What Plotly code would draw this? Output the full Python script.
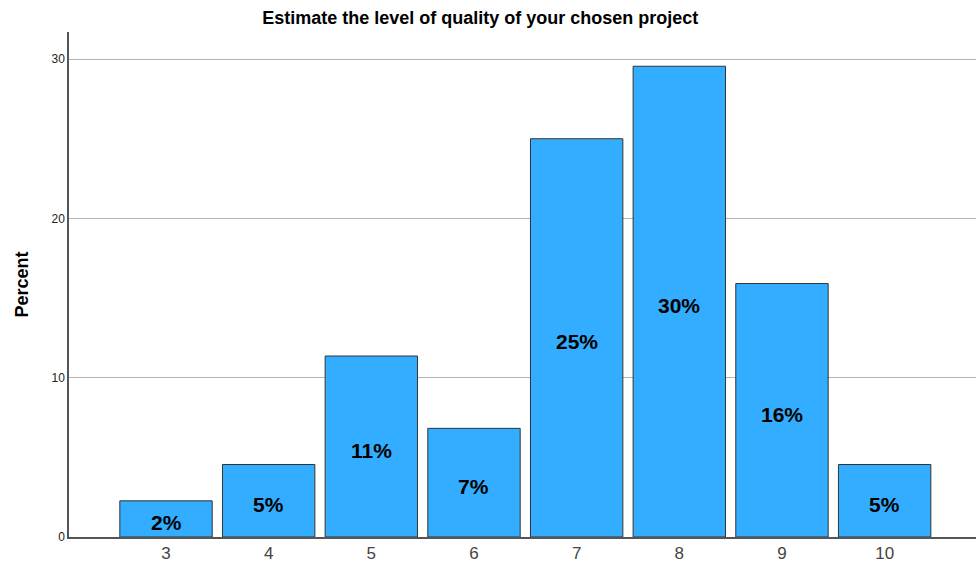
import plotly.graph_objects as go

categories = [3, 4, 5, 6, 7, 8, 9, 10]
percent = [2.27, 4.55, 11.36, 6.82, 25.0, 29.55, 15.91, 4.55]
labels = ["2%", "5%", "11%", "7%", "25%", "30%", "16%", "5%"]
y_ticks = [0, 10, 20, 30]

fig = go.Figure(go.Bar(
    x=categories, y=percent,
    marker=dict(color="#33adff", line=dict(color="#333333", width=1)),
    width=0.9,
    hovertext=labels,
))

for c, v, t in zip(categories, percent, labels):
    fig.add_annotation(x=c, y=v / 2, text="<b>" + t + "</b>", showarrow=False,
                       yshift=-4, xanchor="center", yanchor="middle",
                       font=dict(family="Arial, Liberation Sans", size=21, color="black"))

fig.update_layout(
    width=976, height=568,
    margin=dict(l=69, r=0, t=32, b=31),
    plot_bgcolor="white", paper_bgcolor="white",
    showlegend=False,
    title=dict(text="<b>Estimate the level of quality of your chosen project</b>",
               x=0.492, xref="container", xanchor="center", y=0.968, yanchor="middle",
               font=dict(family="Arial, Liberation Sans", size=18, color="black")),
    font=dict(family="Arial, Liberation Sans"),
)
fig.update_xaxes(
    range=[2.055, 10.89], tickvals=categories, ticktext=[str(c) for c in categories],
    showgrid=False, showline=True, linecolor="#555555", linewidth=1.5,
    ticks="", tickfont=dict(size=17, color="#444444"), zeroline=False,
)
fig.update_yaxes(
    range=[0, 31.7], tickvals=y_ticks, showgrid=True, gridcolor="#b4b4b4", gridwidth=1,
    showline=True, linecolor="#555555", linewidth=1.5, zeroline=False,
    ticks="", tickfont=dict(size=12, color="#222222"),
    title=dict(text="<b>Percent</b>", font=dict(size=18, color="black"), standoff=18),
)

fig.write_html("out.html")
